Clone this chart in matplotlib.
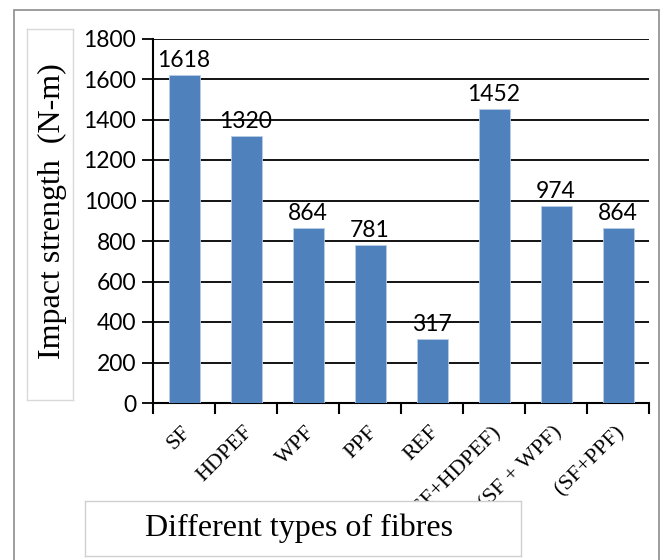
import matplotlib
matplotlib.use("Agg")
import matplotlib.pyplot as plt
from matplotlib.patches import Rectangle
from matplotlib.transforms import ScaledTranslation
import numpy as np

categories = ["SF", "HDPEF", "WPF", "PPF", "REF", "(SF+HDPEF)", "(SF + WPF)", "(SF+PPF)"]
values = [1618, 1320, 864, 781, 317, 1452, 974, 864]
yticks = [0, 200, 400, 600, 800, 1000, 1200, 1400, 1600, 1800]
ylabel = "Impact strength  (N-m)"
xlabel = "Different types of fibres"

W, H = 665, 560
fig = plt.figure(figsize=(W / 100, H / 100), dpi=100)

def fx(px):
    return px / W

def fy(py):
    return 1 - py / H

# outer border
fig.add_artist(Rectangle((fx(14), fy(600)), fx(659) - fx(14), fy(10) - fy(600),
                         transform=fig.transFigure, fill=False, edgecolor="#8c8c8c", lw=1.2))

ax = fig.add_axes([fx(153), fy(403), fx(649) - fx(153), fy(38.5) - fy(403)])
x = np.arange(len(categories))
ax.bar(x, values, width=0.5, color="#4F81BD", edgecolor="#B9CDE5", linewidth=0.6, zorder=3)
ax.set_xlim(-0.5, len(categories) - 0.5)
ax.set_ylim(0, 1800)
ax.set_yticks(yticks)
ax.set_yticklabels([str(t) for t in yticks], fontfamily="Lato", fontsize=16.5)
ax.yaxis.grid(True, color="black", lw=1.3, zorder=1)
ax.set_axisbelow(True)
for s in ["top", "right"]:
    ax.spines[s].set_visible(False)
ax.spines["left"].set_linewidth(1.5)
ax.spines["bottom"].set_linewidth(1.5)
ax.tick_params(axis="y", direction="out", length=8, width=1.3, pad=4)

ax.set_xticks(np.arange(-0.5, len(categories), 1.0))
ax.set_xticklabels([])
ax.tick_params(axis="x", direction="out", length=8, width=1.5)
ax.set_xticks(x, minor=True)
ax.set_xticklabels(categories, minor=True, rotation=45, ha="right", va="center",
                   rotation_mode="anchor", fontfamily="Liberation Serif", fontsize=16)
ax.tick_params(axis="x", which="minor", length=0, pad=19)
for lab in ax.get_xticklabels(minor=True):
    lab.set_transform(lab.get_transform() + ScaledTranslation(4 / 100, 0, fig.dpi_scale_trans))

for xi, v in zip(x, values):
    ax.annotate(str(v), (xi, v), xytext=(0, 3), textcoords="offset points",
                ha="center", va="bottom", fontfamily="Lato", fontsize=16.5, zorder=4)

# y label box
yl = fig.add_axes([fx(27), fy(400), fx(73) - fx(27), fy(29) - fy(400)])
yl.set_xticks([]); yl.set_yticks([])
for s in yl.spines.values():
    s.set_edgecolor("#d9d9d9")
    s.set_linewidth(1.0)
yl.text(0.55, 0.51, ylabel, rotation=90, ha="center", va="center", transform=yl.transAxes,
        fontfamily="Liberation Serif", fontsize=23)

# x label box
xl = fig.add_axes([fx(85), fy(556), fx(521) - fx(85), fy(501) - fy(556)])
xl.set_xticks([]); xl.set_yticks([])
for s in xl.spines.values():
    s.set_edgecolor("#d0d0d0")
    s.set_linewidth(1.0)
xl.text(0.49, 0.5, xlabel, ha="center", va="center", transform=xl.transAxes,
        fontfamily="Liberation Serif", fontsize=23)

fig.savefig("out.png", dpi=100)
